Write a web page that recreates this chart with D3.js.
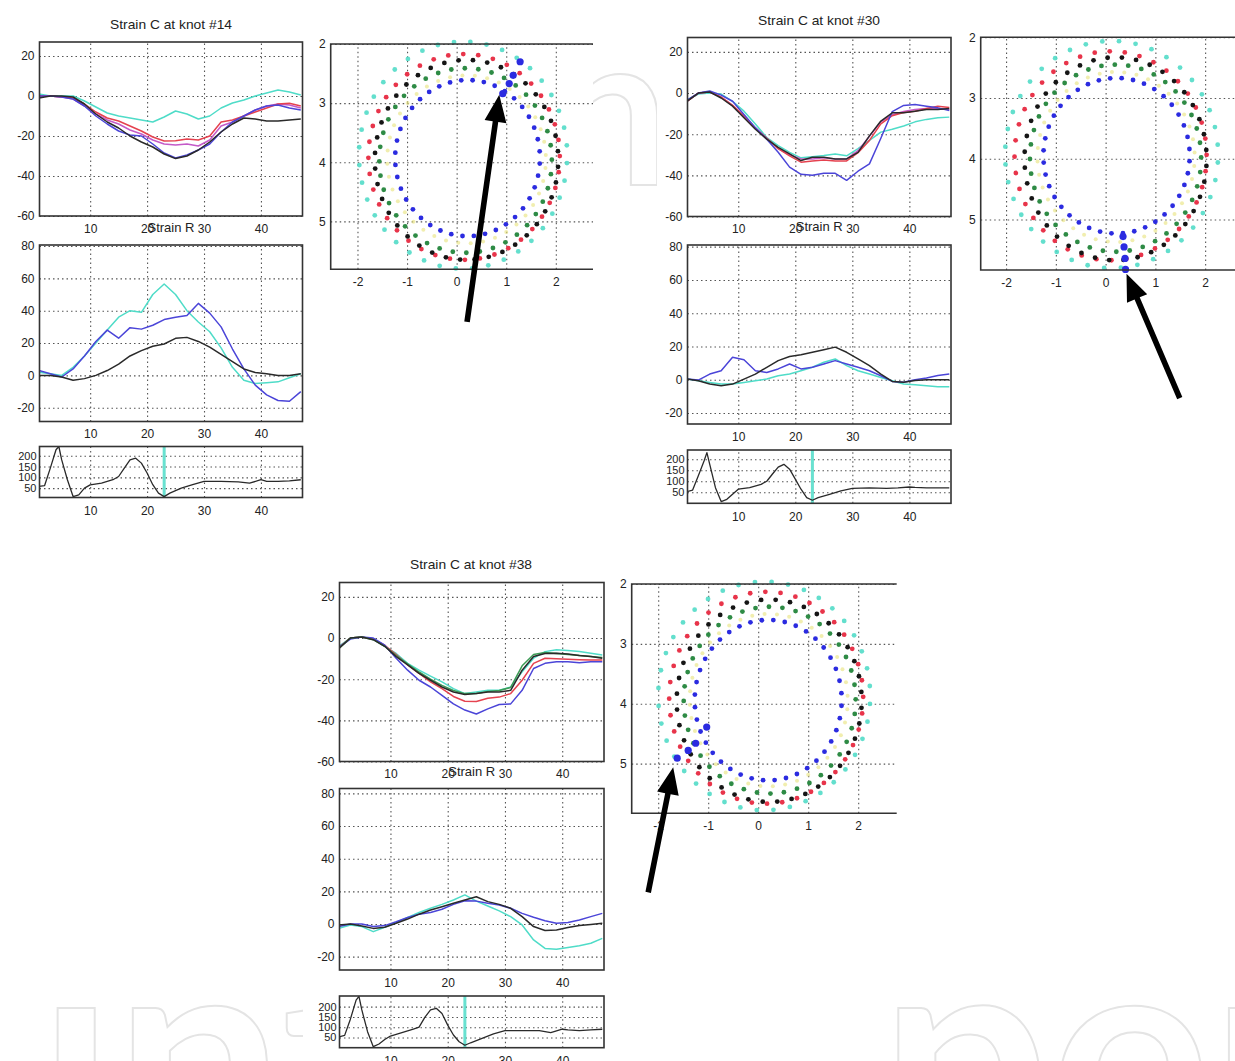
<!DOCTYPE html>
<html><head><meta charset="utf-8">
<script src="https://cdn.jsdelivr.net/npm/d3@7"></script>
<style>
body{margin:0;background:#fff}
svg{display:block}
</style>
</head><body>
<svg id="c" width="1235" height="1061"></svg>
<script>
// ---------------- DATA ----------------
const frames = [1,3,5,7,9,11,13,15,17,19,21,23,25,27,29,31,33,35,37,39,41,43,45,47];
const hrFrames = [1,2,3,4,4.5,5,6,7,8,9,10,12,14,15,16,17,18,19,20,21,22,23,24,26,28,30,33,36,38,40,41,43,45,47];
const titles = ["Strain C at knot #14","Strain C at knot #30","Strain C at knot #38"];
const subTitle = "Strain R";
const frameTicks = [10,20,30,40];
const strainCTicks = [-60,-40,-20,0,20];
const strainRTicks = [-20,0,20,40,60,80];
const hrTicks = [50,100,150,200];
const ringXTicks = [-2,-1,0,1,2];
const ringYTicks = [2,3,4,5];
const markerFrame = [23,23,23];

// knot #14
const c14_cyan    = [1,0,0,0,-2.5,-5.5,-8.5,-10,-11,-12,-13,-10.5,-7.5,-9,-11.5,-10,-6,-3.5,-2,0,1.5,3,2,0.5];
const c14_magenta = [0,0,-0.5,-1.5,-5,-9,-12,-14,-17,-19,-22,-24,-24.5,-24,-25,-22,-15,-13,-10,-7,-5,-4,-4.5,-6];
const c14_red     = [0,0,-0.5,-1,-4,-8,-11,-12.5,-15,-17.5,-20.5,-22.5,-22.4,-21.5,-22,-20,-13,-12,-10,-8,-6,-4,-3.6,-5];
const c14_blue    = [0,0,-0.5,-1.5,-5,-10,-14,-17.5,-19.5,-20,-24,-28.5,-31,-29.5,-27,-24,-18,-13,-10,-7,-5,-4.5,-6,-7];
const c14_black   = [-1,0,0,-0.5,-4,-9,-13,-16,-20,-23,-25.5,-29,-31.3,-30,-27,-23,-18,-14,-11,-11.5,-12.5,-12.5,-12,-11.5];
const r14_cyan    = [2,1,0,5,12,20,28,36,40,39,50,56.5,50,40,33,27,17,5,-3,-5,-4.5,-4,-1.5,1];
const r14_blue    = [3,1,-1,4,12,21,28,23,29.5,28.6,31,34.5,36,37,44.5,38.5,30,16.3,4,-6,-12,-15.5,-16,-10];
const r14_black   = [0,0,-1,-3,-2,0,3,7,12,15.3,18,19.4,22.9,23.5,21,17.5,13,8.5,4,1.8,1,0,0,1];
const hr14        = [58,62,143,228,243,181,89,11,19,50,65,73,89,104,143,181,189,166,120,66,27,11,27,50,66,81,81,79,73,89,81,81,84,89];

// knot #30
const c30_cyan    = [-3.5,-0.5,0,-0.5,-4,-8.8,-15,-21.6,-25.6,-28.8,-31.5,-31,-30.4,-29.6,-30.5,-27,-23,-19,-17.6,-16,-14,-12.8,-12,-11.7];
const c30_magenta = [-4,0,0.5,-2,-6,-11.5,-17,-22,-27,-30,-32,-32,-31.5,-32,-32,-28,-21,-14,-10.5,-9,-8,-7.5,-7.5,-8];
const c30_red     = [-4,0,0.5,-2,-6,-11,-17,-22,-27,-30.5,-33.6,-33,-32.5,-33,-33,-29,-23,-15,-11,-9.5,-8.8,-7.5,-6.4,-7];
const c30_blue    = [-3.5,0,1,-1,-4,-10.4,-16.8,-22.4,-28.8,-36,-39.5,-40,-39,-39,-42.4,-38,-34.4,-22,-9,-6,-5.6,-6.4,-7.2,-8.5];
const c30_black   = [-4,0,0.5,-2.4,-6.4,-12,-17.6,-22.4,-26.4,-29.6,-32.8,-31.2,-31.2,-32,-32,-28.8,-20.8,-13.6,-9.6,-9.6,-8.8,-8,-8,-7.5];
const r30_cyan    = [0.4,-0.6,-1.6,-2.6,-2.6,-1.6,-0.6,0.4,2.4,3.4,5.4,7.5,10.5,12.5,8.5,5.4,3.4,1.4,-0.6,-2.6,-3,-3.6,-4.2,-4.2];
const r30_blue    = [0.4,-0.2,3.4,5.4,13.5,12,5.4,4.4,6.5,9.5,6.5,7.5,9.5,11.5,9.5,7.5,5.4,2.4,-1,-1.5,0,1,2.5,3.4];
const r30_black   = [0.4,-0.6,-2.6,-3.6,-2.6,0.4,3.4,7.5,11.5,14,15,16.5,18,19.6,16.5,12.5,8.5,3.4,-1,-1.5,-0.5,0,0,0];
const hr30        = [53,60,125,192,230,177,71,8,18,41,64,71,86,100,133,164,177,155,110,64,26,14,26,41,56,68,70,68,70,74,72,70,70,70];

// knot #38
const c38_cyan    = [-4,0,0.5,-0.5,-4,-7.5,-12.3,-15.6,-18.5,-21.3,-24.6,-27,-26.2,-25.4,-25.4,-23.8,-16.4,-9.8,-6.6,-5.7,-6,-6.5,-7.4,-8.2];
const c38_green   = [-5,0,0.5,-0.8,-4,-8.5,-12.5,-16.5,-20,-23,-25.5,-27,-27,-26,-25.5,-24,-13.5,-8,-7,-7.5,-8,-8.5,-9,-9.5];
const c38_red     = [-4.5,0,0.5,-0.5,-3.5,-8,-13,-17.2,-21.3,-24.6,-28.4,-30.7,-30.8,-29.3,-28.7,-27,-20.5,-12.3,-9.8,-10,-10.3,-10.5,-10.7,-10.7];
const c38_blue    = [-4.5,-0.5,0.5,0,-3.5,-9.8,-15.6,-20.5,-23.8,-27.9,-32,-35,-36.9,-34.4,-32.3,-32,-25.4,-14.8,-12.3,-11.5,-11.5,-12,-11.5,-11.5];
const c38_black   = [-5,0,0.5,-0.8,-4,-9,-13,-17.2,-20.5,-23.8,-26.2,-27.4,-27,-26.2,-26.2,-25.4,-15.6,-9,-7.5,-7.4,-7.8,-8.5,-9,-9.8];
const r38_cyan    = [-2.7,-0.6,-1.6,-4.7,-2,1,4,7,9.6,12,14.7,17.8,14,11,8,4.5,-0.6,-9.8,-15,-15.5,-14.4,-13.4,-11.8,-8.8];
const r38_blue    = [-1.6,0,0,-1.6,-1,1.4,4,6,7,9,12,14.2,14,12.7,11.6,9.6,6.5,4.1,2,0.4,0.9,2.4,4.5,6.5];
const r38_black   = [-0.6,0,-1.2,-2.7,-2,0.4,3,6,8.6,10.6,12.7,14.7,16.7,13.7,12,9.6,4.5,-1.6,-4,-3.7,-2.2,-0.9,-0.3,0.4];
const hr38        = [53,60,139,232,250,184,78,5,18,40,57,73,90,100,148,184,192,167,110,62,29,12,24,45,67,83,83,83,73,90,87,83,87,90];

// ring (knot) plots: knots and per-layer ellipse parameters
const knots = [1,2,3,4,5,6,7,8,9,10,11,12,13,14,15,16,17,18,19,20,21,22,23,24,25,26,27,28,29,30,31,32,33,34,35,36,37,38,39,40];
const ringLayers = ["cyan","red","black","green","yellow","blue"];
const ringAngleOffset = [0,4.5,0,4.5,2,0];
const ring14_cx = [0.13,0.15,0.2,0.18,0.2,0.22];
const ring14_cy = [3.88,3.91,3.96,3.97,3.95,3.93];
const ring14_rx = [2.1,1.93,1.85,1.74,1.6,1.46];
const ring14_ry = [1.92,1.74,1.69,1.56,1.42,1.32];
const ring30_cx = [0.12,0.1,0.2,0.2,0.21,0.22];
const ring30_cy = [3.93,3.95,4.0,3.99,3.97,3.95];
const ring30_rx = [2.14,1.93,1.83,1.72,1.58,1.47];
const ring30_ry = [1.87,1.72,1.67,1.54,1.4,1.28];
const ring38_cx = [0.12,0.16,0.22,0.23,0.21,0.2];
const ring38_cy = [3.87,3.9,3.95,3.94,3.94,3.94];
const ring38_rx = [2.12,1.94,1.85,1.72,1.58,1.47];
const ring38_ry = [1.91,1.77,1.69,1.56,1.44,1.34];
const hl14_x = [0.93,1.06,1.14,1.28], hl14_y = [2.84,2.67,2.53,2.3];
const hl30_x = [0.35,0.37,0.39,0.4],  hl30_y = [5.28,5.45,5.64,5.82];
const hl38_x = [-1.03,-1.25,-1.4,-1.62], hl38_y = [4.39,4.66,4.78,4.91];
const arrow14 = [[0.21,6.7],[0.86,2.86]];
const arrow30 = [[1.49,7.94],[0.42,5.89]];
const arrow38 = [[-2.2,7.15],[-1.7,5.06]];

// ---------------- STYLE ----------------
const COL = {cyan:"#4fdcc8", magenta:"#c45ac8", red:"#e5424f", blue:"#4b45d8", black:"#2a2a2a", green:"#3c9b55"};
const DOT = {cyan:"#52dcc8", red:"#e8344a", black:"#151515", green:"#2e8b45", yellow:"#e8e27a", blue:"#2b2be0"};
const FONT = '"Liberation Sans", Arial, sans-serif';

const panels = [
 {title:titles[0], tx:171, ty:24, sx0:39.5, sx1:302.5, cy0:42, cy1:216, ry0:245, ry1:421.5, hy0:446.5, hy1:497.5,
  rDom:[-28.5,80.6], hDom:[6.7,243], subY:227,
  cSeries:[[c14_cyan,"cyan"],[c14_magenta,"magenta"],[c14_red,"red"],[c14_blue,"blue"],[c14_black,"black"]],
  rSeries:[[r14_cyan,"cyan"],[r14_blue,"blue"],[r14_black,"black"]], hr:hr14, mk:markerFrame[0],
  ring:{x0:330.7,x1:593,y0:44,y1:269.3,xDom:[-2.54,2.75],yDom:[2,5.81],cx:ring14_cx,cy:ring14_cy,rx:ring14_rx,ry:ring14_ry,hx:hl14_x,hy:hl14_y,arrow:arrow14},
  bgs:[[10,13,583,511]]},
 {title:titles[1], tx:819, ty:20, sx0:687.5, sx1:951, cy0:37.5, cy1:216.5, ry0:245, ry1:424, hy0:450, hy1:503.3,
  rDom:[-26.6,81], hDom:[0,242], subY:226,
  cSeries:[[c30_cyan,"cyan"],[c30_magenta,"magenta"],[c30_red,"red"],[c30_blue,"blue"],[c30_black,"black"]],
  rSeries:[[r30_cyan,"cyan"],[r30_blue,"blue"],[r30_black,"black"]], hr:hr30, mk:markerFrame[1],
  ring:{x0:980.7,x1:1235,y0:37.3,y1:270,xDom:[-2.51,2.6],yDom:[2,5.83],cx:ring30_cx,cy:ring30_cy,rx:ring30_rx,ry:ring30_ry,hx:hl30_x,hy:hl30_y,arrow:arrow30},
  bgs:[[657,5,578,523]]},
 {title:titles[2], tx:471, ty:564, sx0:339.5, sx1:604, cy0:582.5, cy1:761.5, ry0:788.5, ry1:970, hy0:996, hy1:1047.7,
  rDom:[-28.2,83], hDom:[0,252], subY:771,
  cSeries:[[c38_cyan,"cyan"],[c38_red,"red"],[c38_blue,"blue"],[c38_green,"green"],[c38_black,"black"]],
  rSeries:[[r38_cyan,"cyan"],[r38_blue,"blue"],[r38_black,"black"]], hr:hr38, mk:markerFrame[2],
  ring:{x0:631.7,x1:896.7,y0:584,y1:813.3,xDom:[-2.53,2.77],yDom:[2,5.83],cx:ring38_cx,cy:ring38_cy,rx:ring38_rx,ry:ring38_ry,hx:hl38_x,hy:hl38_y,arrow:arrow38},
  bgs:[[303,550,312,511],[620,570,280,330]]}
];

// ---------------- DRAW ----------------
const svg = d3.select("#c");
const defs = svg.append("defs");
let clipN = 0;
function clip(x,y,w,h){ const id="cl"+(clipN++); defs.append("clipPath").attr("id",id).append("rect").attr("x",x).attr("y",y).attr("width",w).attr("height",h); return "url(#"+id+")"; }

// faint watermark (clipped to the visible area)
const wm = svg.append("g").attr("clip-path", clip(0,0,1235,1061)).attr("fill","#fff").attr("stroke","#e4e4e4").attr("stroke-width",2)
  .style("font-family","Lato, sans-serif").style("font-weight",700);
wm.append("text").attr("x",549).attr("y",185).attr("font-size",213).text("n");
wm.append("text").attr("x",38).attr("y",1162).attr("font-size",300).text("\u0131nt");
wm.append("text").attr("x",880).attr("y",1162).attr("font-size",300).text("pen");

panels.forEach(p => p.bgs.forEach(b => svg.append("rect").attr("x",b[0]).attr("y",b[1]).attr("width",b[2]).attr("height",b[3]).attr("fill","#fff")));

function styleGrid(s){ s.select(".domain").remove(); s.selectAll("line").attr("stroke","#555").attr("stroke-width",1.1).attr("stroke-dasharray","1.5,3"); }
function styleLabels(s,fs){ s.select(".domain").remove(); s.selectAll("text").attr("fill","#222").style("font-family",FONT).style("font-size",fs+"px"); }

function linePlot(g, box, xDom, yDom, yTicks, series, xs, opts){
  const x = d3.scaleLinear().domain(xDom).range([box.x0, box.x1]);
  const y = d3.scaleLinear().domain(yDom).range([box.y1, box.y0]);
  const W = box.x1-box.x0, H = box.y1-box.y0;
  g.append("g").attr("transform",`translate(0,${box.y1})`)
    .call(d3.axisBottom(x).tickValues(frameTicks).tickSize(-H).tickFormat("")).call(styleGrid);
  g.append("g").attr("transform",`translate(${box.x0},0)`)
    .call(d3.axisLeft(y).tickValues(yTicks).tickSize(-W).tickFormat("")).call(styleGrid);
  const cp = clip(box.x0, box.y0, W, H);
  const lg = g.append("g").attr("clip-path", cp);
  if (opts.marker !== undefined){
    lg.append("line").attr("x1",x(opts.marker)).attr("x2",x(opts.marker)).attr("y1",box.y0).attr("y2",box.y1)
      .attr("stroke",COL.cyan).attr("stroke-width",3).attr("opacity",0.85);
  }
  series.forEach(([vals,col]) => {
    const line = d3.line().x((d,i)=>x(xs[i])).y(d=>y(d));
    lg.append("path").datum(vals).attr("d",line).attr("fill","none").attr("stroke",COL[col]).attr("stroke-width",opts.sw||1.5).attr("stroke-linejoin","round");
  });
  g.append("rect").attr("x",box.x0).attr("y",box.y0).attr("width",W).attr("height",H).attr("fill","none").attr("stroke","#333").attr("stroke-width",1.6);
  g.append("g").attr("transform",`translate(${box.x0},0)`)
    .call(d3.axisLeft(y).tickValues(yTicks).tickSize(0).tickPadding(opts.lp||5).tickFormat(d=>String(d))).call(s=>styleLabels(s,opts.yfs||12));
  g.append("g").attr("transform",`translate(0,${box.y1})`)
    .call(d3.axisBottom(x).tickValues(frameTicks).tickSize(0).tickPadding(opts.bp||7).tickFormat(d=>String(d))).call(s=>styleLabels(s,12));
}

panels.forEach(p => {
  const g = svg.append("g");
  const xDom = [1.1, 47.3];
  g.append("text").attr("x",p.tx).attr("y",p.ty).attr("dy","0.35em").attr("text-anchor","middle")
    .attr("textLength",122).attr("lengthAdjust","spacingAndGlyphs")
    .style("font-family",FONT).style("font-size","13px").attr("fill","#222").text(p.title);
  linePlot(g, {x0:p.sx0,x1:p.sx1,y0:p.cy0,y1:p.cy1}, xDom, [-60,27], strainCTicks, p.cSeries, frames, {bp:8});
  linePlot(g, {x0:p.sx0,x1:p.sx1,y0:p.ry0,y1:p.ry1}, xDom, p.rDom, strainRTicks, p.rSeries, frames, {bp:8});
  linePlot(g, {x0:p.sx0,x1:p.sx1,y0:p.hy0,y1:p.hy1}, xDom, p.hDom, hrTicks, [[p.hr,"black"]], hrFrames, {marker:p.mk, yfs:11, lp:3, bp:9, sw:1.3});
  g.append("text").attr("x",(p.sx0+p.sx1)/2).attr("y",p.subY).attr("dy","0.35em").attr("text-anchor","middle")
    .attr("textLength",47).attr("lengthAdjust","spacingAndGlyphs")
    .style("font-family",FONT).style("font-size","13px").attr("fill","#222").text(subTitle);

  // ring plot
  const R = p.ring;
  const x = d3.scaleLinear().domain(R.xDom).range([R.x0, R.x1]);
  const y = d3.scaleLinear().domain(R.yDom).range([R.y0, R.y1]);
  const W = R.x1-R.x0, H = R.y1-R.y0;
  const rg = g.append("g");
  const cp = clip(R.x0, R.y0-10, W, H+20);
  const gg = rg.append("g").attr("clip-path", clip(R.x0, R.y0, W, H));
  gg.append("g").attr("transform",`translate(0,${R.y1})`)
    .call(d3.axisBottom(x).tickValues(ringXTicks).tickSize(-H).tickFormat("")).call(styleGrid);
  gg.append("g").attr("transform",`translate(${R.x0},0)`)
    .call(d3.axisLeft(y).tickValues(ringYTicks).tickSize(-(W+40)).tickFormat("")).call(styleGrid);
  const dg = rg.append("g").attr("clip-path", cp);
  const phi1 = 176, step = 9;
  ringLayers.forEach((layer, li) => {
    dg.append("g").selectAll("circle").data(knots).join("circle")
      .attr("cx", k => x(R.cx[li] + R.rx[li]*Math.cos((phi1 - (k-1)*step - ringAngleOffset[li])*Math.PI/180)))
      .attr("cy", k => y(R.cy[li] - R.ry[li]*Math.sin((phi1 - (k-1)*step - ringAngleOffset[li])*Math.PI/180)))
      .attr("r", layer==="yellow"?2:2.4)
      .attr("fill", DOT[layer]).attr("opacity", layer==="yellow"?0.6:(layer==="cyan"?0.9:1));
  });
  dg.append("g").selectAll("circle").data(R.hx).join("circle")
    .attr("cx",(d)=>x(d)).attr("cy",(d,i)=>y(R.hy[i])).attr("r",3.6).attr("fill",DOT.blue);
  rg.append("path").attr("d",`M${R.x1},${R.y0}H${R.x0}V${R.y1}H${R.x1}`).attr("fill","none").attr("stroke","#333").attr("stroke-width",1.6);
  rg.append("g").attr("transform",`translate(${R.x0},0)`)
    .call(d3.axisLeft(y).tickValues(ringYTicks).tickSize(0).tickPadding(5).tickFormat(d=>String(d))).call(s=>styleLabels(s,12));
  rg.append("g").attr("transform",`translate(0,${R.y1})`)
    .call(d3.axisBottom(x).tickValues(ringXTicks).tickSize(0).tickPadding(8).tickFormat(d=>String(d))).call(s=>styleLabels(s,12));
  // arrow
  const S = [x(R.arrow[0][0]), y(R.arrow[0][1])], T = [x(R.arrow[1][0]), y(R.arrow[1][1])];
  const L = Math.hypot(T[0]-S[0], T[1]-S[1]);
  const u = [(T[0]-S[0])/L, (T[1]-S[1])/L], n = [-u[1], u[0]];
  const hw = 2.8, hh = 11, hl = 27;
  const Hp = [T[0]-u[0]*hl, T[1]-u[1]*hl];
  const pts = [
    [S[0]+n[0]*hw, S[1]+n[1]*hw], [Hp[0]+n[0]*hw, Hp[1]+n[1]*hw], [Hp[0]+n[0]*hh, Hp[1]+n[1]*hh], T,
    [Hp[0]-n[0]*hh, Hp[1]-n[1]*hh], [Hp[0]-n[0]*hw, Hp[1]-n[1]*hw], [S[0]-n[0]*hw, S[1]-n[1]*hw]];
  g.append("path").attr("d", d3.line()(pts)+"Z").attr("fill","#000");
});
</script>
</body></html>
